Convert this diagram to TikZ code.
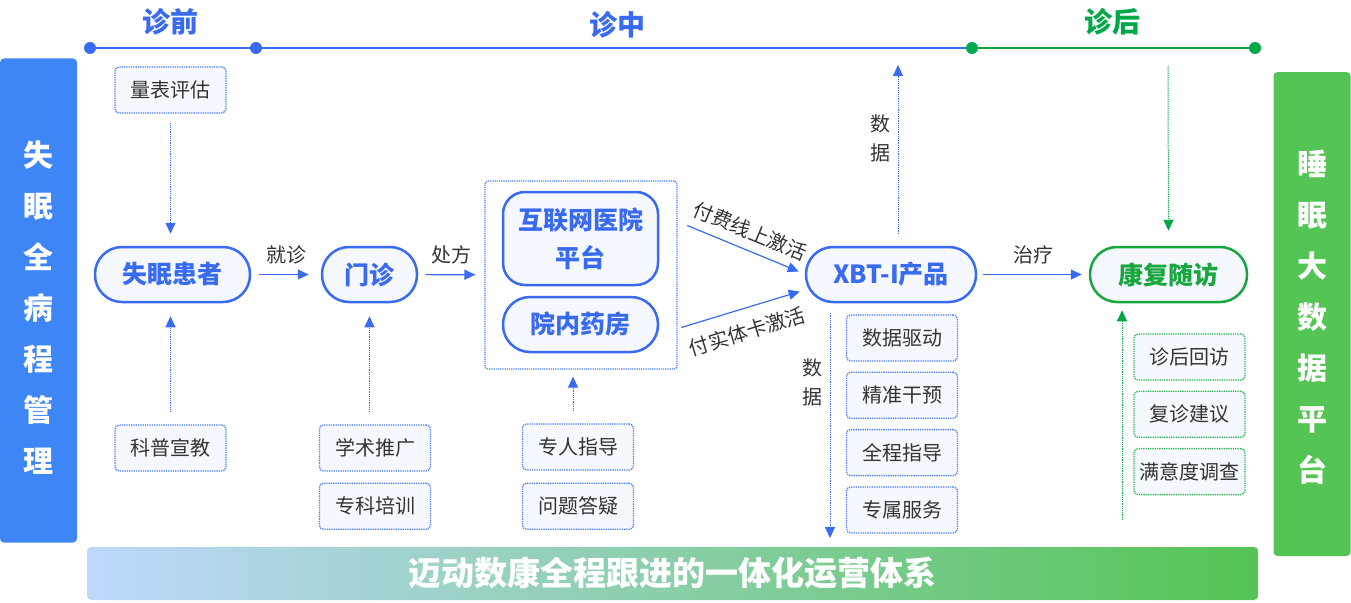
\documentclass[tikz,border=0pt]{standalone}
\usepackage{fontspec}
\setmainfont{Noto Sans CJK SC}
\usepackage{tikz}
\usetikzlibrary{positioning,arrows.meta,calc}
\definecolor{mainblue}{RGB}{56,106,242}
\definecolor{barblue}{RGB}{62,134,246}
\definecolor{dotblue}{RGB}{77,124,240}
\definecolor{linegreen}{RGB}{0,168,72}
\definecolor{nodegreen}{RGB}{24,166,62}
\definecolor{dotgreen}{RGB}{40,180,80}
\definecolor{bargreen}{RGB}{84,196,84}
\definecolor{paleblue}{RGB}{246,248,255}
\definecolor{textgray}{RGB}{51,51,51}
\definecolor{bandleft}{RGB}{190,216,252}
\tikzset{
  sidebar/.style={rounded corners=4pt, minimum width=77pt, minimum height=484pt, inner sep=0pt},
  sidetext/.style={align=center, text=white, inner sep=0pt, font=\fontsize{30}{51}\selectfont\bfseries},
  phase/.style={font=\fontsize{28}{32}\selectfont\bfseries, text=mainblue},
  tline/.style={line width=2.5pt, mainblue},
  mainnode/.style={draw=mainblue, line width=2.5pt, fill=paleblue, rounded corners=27pt,
                   minimum height=55pt, inner sep=0pt, text=mainblue,
                   font=\fontsize{25}{38}\selectfont\bfseries},
  greennode/.style={draw=nodegreen, text=nodegreen},
  grpbox/.style={draw=dotblue, densely dotted, line width=1.2pt, rounded corners=3pt,
                 minimum width=192pt, minimum height=188pt},
  subbox/.style={draw=dotblue, densely dotted, line width=1.3pt, fill=paleblue, rounded corners=4pt,
                 minimum width=111pt, minimum height=46pt, inner sep=0pt, text=textgray,
                 font=\fontsize{20}{22}\selectfont},
  greenbox/.style={draw=dotgreen},
  flow/.style={-{Triangle[length=11pt,width=10pt]}, line width=1.2pt, mainblue},
  dotflow/.style={flow, densely dotted, line width=1pt},
  lbl/.style={font=\fontsize{20}{29}\selectfont, text=textgray, inner sep=1pt},
  banner/.style={left color=bandleft, right color=bargreen, rounded corners=4pt,
                 minimum width=1171pt, minimum height=53pt, text=white,
                 font=\fontsize{33}{36}\selectfont\bfseries}
}

\begin{document}
\begin{tikzpicture}[x=1pt,y=-1pt]
\useasboundingbox (0,0) rectangle (1351,602);
\node[sidebar, fill=barblue] (lbar) at (38.5,300.5) {};
\node[sidetext] (ltxt) at (38.5,308) {失\\眠\\全\\病\\程\\管\\理};
\node[sidebar, fill=bargreen] (rbar) at (1312,314) {};
\node[sidetext] (rtxt) at (1312,317) {睡\\眠\\大\\数\\据\\平\\台};
\coordinate (t0) at (90,48);
\coordinate (t1) at (256,48);
\coordinate (t2) at (972,48);
\coordinate (t3) at (1255,48);
\draw[tline] (t0) -- (t2);
\draw[tline, linegreen] (t2) -- (t3);
\foreach \c in {t0,t1} \fill[mainblue] (\c) circle[radius=6pt];
\foreach \c in {t2,t3} \fill[linegreen] (\c) circle[radius=6pt];
\node[phase] (pre) at (170,22) {诊前};
\node[phase] (mid) at (617,25) {诊中};
\node[phase, text=linegreen] (post) at (1112,22) {诊后};
\node[mainnode, minimum width=155pt] (patient) at (172.5,274.5) {失眠患者};
\node[mainnode, minimum width=95pt] (clinic) at (369.5,274.5) {门诊};
\node[grpbox] (grp) at (581,275) {};
\node[mainnode, minimum width=155pt, minimum height=93pt, rounded corners=22pt, align=center] (hosp) at (580.5,238.5) {互联网医院\\平台};
\node[mainnode, minimum width=155pt] (pharm) at (580.5,324.5) {院内药房};
\node[mainnode, minimum width=170pt] (xbt) at (891,274.5) {XBT-I产品};
\node[mainnode, greennode, minimum width=157pt] (rehab) at (1168.5,274.5) {康复随访};
\node[subbox] (scale) at (170.5,90) {量表评估};
\node[subbox] (sci) at (170.5,448) {科普宣教};
\node[subbox] (acad) at (375,448) {学术推广};
\node[subbox, below=11pt of acad] (train) {专科培训};
\node[subbox] (guide) at (578,447) {专人指导};
\node[subbox, below=12pt of guide] (qa) {问题答疑};
\node[subbox] (drive) at (902,338) {数据驱动};
\node[subbox, below=10pt of drive] (precise) {精准干预};
\node[subbox, below=10pt of precise] (whole) {全程指导};
\node[subbox, below=10pt of whole] (vip) {专属服务};
\node[subbox, greenbox] (revisit) at (1189.5,357) {诊后回访};
\node[subbox, greenbox, below=10pt of revisit] (advice) {复诊建议};
\node[subbox, greenbox, below=10pt of advice] (survey) {满意度调查};
\draw[flow, shorten <=8pt, shorten >=12pt] (patient) -- node[lbl, above=9pt] {就诊} (clinic);
\draw[flow, shorten <=7pt, shorten >=9pt] (clinic) -- node[lbl, above=9pt] {处方} (grp);
\draw[flow] ($(hosp.east)+(28,-13)$) -- node[lbl, sloped, above=8pt] {付费线上激活} ($(xbt.west)+(-6,-3)$);
\draw[flow] ($(pharm.east)+(22,3)$) -- node[lbl, sloped, below=12pt] {付实体卡激活} ($(xbt.west)+(-5,17)$);
\draw[flow, shorten <=6pt, shorten >=7pt] (xbt) -- node[lbl, above=9pt] {治疗} (rehab);
\draw[dotflow, shorten <=9pt, shorten >=12pt] (scale.south) -- (scale.south |- patient.north);
\draw[dotflow, shorten <=12pt, shorten >=13pt] (sci.north) -- (sci.north |- patient.south);
\draw[dotflow, shorten <=12pt, shorten >=13pt] (clinic.south |- acad.north) -- (clinic.south);
\draw[dotflow, shorten <=12pt, shorten >=7pt] ([xshift=-5pt]guide.north) -- ([xshift=-5pt]guide.north |- grp.south);
\coordinate (dtop) at (898,65);
\coordinate (dbot) at (830,538);
\draw[dotflow, shorten <=12pt] (xbt.north -| dtop) -- (dtop);
\draw[dotflow, shorten <=10pt] (xbt.south -| dbot) -- (dbot);
\node[lbl, align=center] (dlbl1) at (880,138) {数\\据};
\node[lbl, align=center] (dlbl2) at (812,382) {数\\据};
\coordinate (ftop) at (1168,66);
\coordinate (fbot) at (1122,520);
\draw[dotflow, linegreen, shorten >=15pt] (ftop) -- (rehab.north);
\draw[dotflow, linegreen, shorten >=7pt] (fbot) -- (fbot |- rehab.south);
\node[banner] (sys) at (672.5,573.5) {迈动数康全程跟进的一体化运营体系};
\end{tikzpicture}
\end{document}
